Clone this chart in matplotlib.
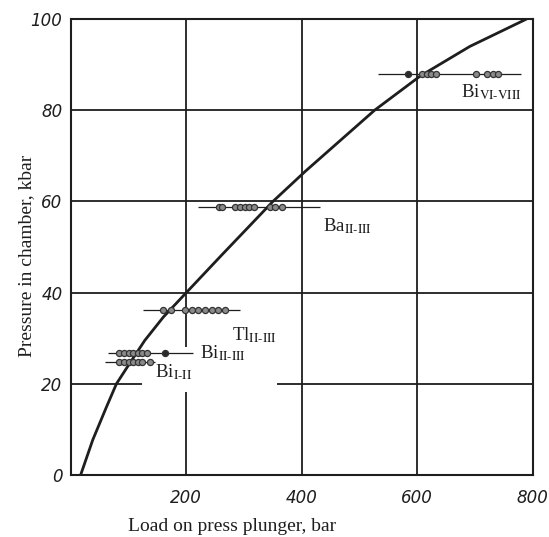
import numpy as np
import matplotlib.pyplot as plt

plt.rcParams['font.family'] = ['Liberation Serif', 'DejaVu Serif']
plt.rcParams['mathtext.fontset'] = 'stix'

# calibration curve (load, pressure)
curve_load = [17, 38, 62, 79, 102, 128, 160, 200, 261, 350, 406, 526, 605, 691, 789]
curve_pres = [0, 7.7, 15, 20, 24.5, 29.5, 34.6, 40, 48.2, 60, 66.6, 80, 87.5, 94, 100]

# transition points: pressure level and measured loads
bi68_p = 87.9
bi68_x = [584, 608, 616, 624, 632, 701, 721, 731, 740]
bi68_range = (532, 780)

ba_p = 58.8
ba_x = [257, 262, 284, 293, 301, 309, 317, 345, 353, 365]
ba_range = (220, 432)

tl_p = 36.2
tl_x = [160, 174, 197, 209, 220, 232, 244, 255, 267]
tl_range = (125, 293)

bi23_p = 26.7
bi23_x = [84, 92, 100, 108, 116, 124, 132, 163]
bi23_range = (65, 212)

bi12_p = 24.8
bi12_x = [84, 92, 100, 108, 116, 124, 137]
bi12_range = (59, 145)

xticks = [200, 400, 600, 800]
yticks = [0, 20, 40, 60, 80, 100]
ytick_labels = ['0', '20', '40', '60', '80', '100']

ink = '#1e1e1e'

fig = plt.figure(figsize=(5.49, 5.37), dpi=100)
ax = fig.add_axes([0.129, 0.1155, 0.8415, 0.849])
ax.set_xlim(0, 800)
ax.set_ylim(0, 100)

# grid (some lines broken where labels sit)
ax.vlines([400, 600], 0, 100, color=ink, lw=1.3)
ax.vlines(200, 0, 18.3, color=ink, lw=1.3)
ax.vlines(200, 28.1, 100, color=ink, lw=1.3)
ax.hlines([40, 60, 80], 0, 800, color=ink, lw=1.3)
ax.hlines(20, 0, 123, color=ink, lw=1.3)
ax.hlines(20, 357, 800, color=ink, lw=1.3)

# calibration curve
ax.plot(curve_load, curve_pres, color=ink, lw=2.0, solid_capstyle='round',
        solid_joinstyle='round')

rows = [
    (bi68_p, bi68_x, bi68_range, [0]),
    (ba_p, ba_x, ba_range, []),
    (tl_p, tl_x, tl_range, []),
    (bi23_p, bi23_x, bi23_range, [7]),
    (bi12_p, bi12_x, bi12_range, []),
]
for p, xs, rng, dark in rows:
    ax.hlines(p, rng[0], rng[1], color=ink, lw=0.9)
    for i, xv in enumerate(xs):
        fc = '#2a2a2a' if i in dark else '#8a8a8a'
        ax.plot(xv, p, 'o', ms=4.4, mfc=fc, mec='#333333', mew=0.9)

lab = dict(fontsize=13.5, color=ink, va='center', ha='left')
ax.text(676, 84.0, r'Bi$_{\mathrm{VI}\text{-}\mathrm{VIII}}$', **lab)
ax.text(436, 54.5, r'Ba$_{\mathrm{II}\text{-}\mathrm{III}}$', **lab)
ax.text(279, 30.6, r'Tl$_{\mathrm{II}\text{-}\mathrm{III}}$', **lab)
ax.text(224, 26.8, r'Bi$_{\mathrm{II}\text{-}\mathrm{III}}$', **lab)
ax.text(146, 22.6, r'Bi$_{\mathrm{I}\text{-}\mathrm{II}}$', **lab)

ax.set_xticks(xticks)
ax.set_yticks(yticks)
ax.set_yticklabels(ytick_labels)
ax.tick_params(length=0, labelsize=12, colors=ink)
ax.tick_params(axis='x', pad=10)
ax.tick_params(axis='y', pad=6)
for t in ax.get_xticklabels() + ax.get_yticklabels():
    t.set_fontfamily('DejaVu Sans')
    t.set_fontstyle('italic')

for s in ax.spines.values():
    s.set_color(ink)
    s.set_linewidth(1.5)

ax.set_xlabel('Load on press plunger, bar', fontsize=14, color=ink, labelpad=10)
ax.xaxis.set_label_coords(0.35, -0.095)
ax.set_ylabel('Pressure in chamber, kbar', fontsize=14, color=ink)
ax.yaxis.set_label_coords(-0.078, 0.48)

fig.savefig('out.png', dpi=100)
